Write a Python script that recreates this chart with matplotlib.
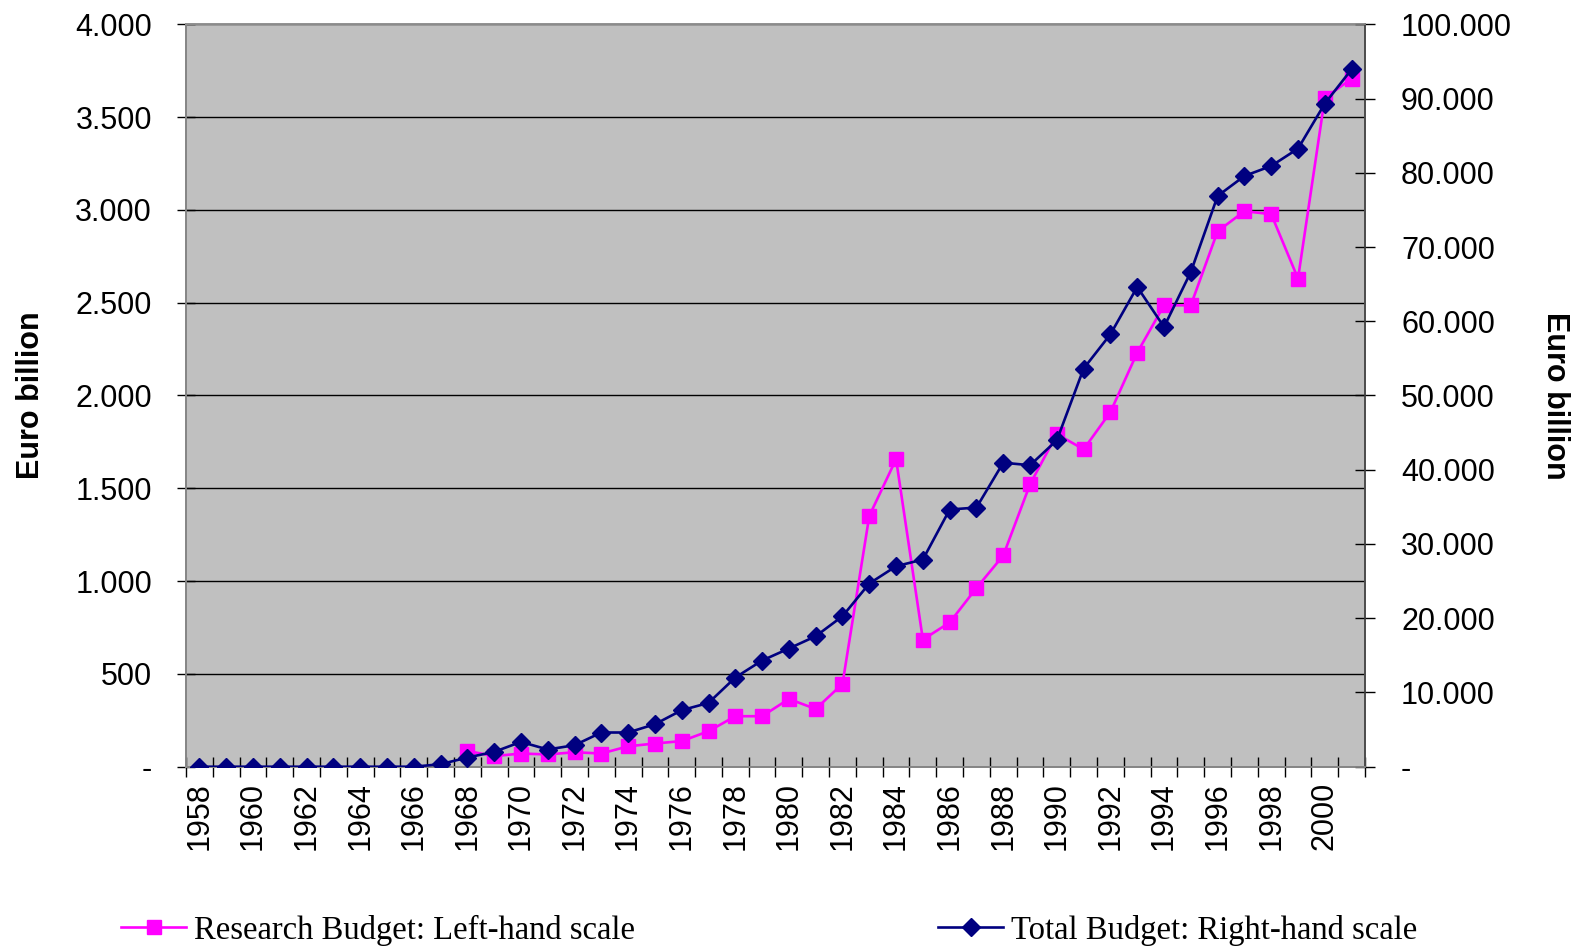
import numpy as np
import matplotlib
matplotlib.use("Agg")
import matplotlib.pyplot as plt
from matplotlib.ticker import FixedLocator, FuncFormatter

years = list(range(1958, 2002))

# Research budget (left-hand scale), starts in 1968
research = [np.nan] * 10 + [
    85, 57, 71, 66, 78, 71, 110, 125, 138, 191,
    272, 272, 365, 311, 446, 1351, 1657, 685, 777, 963,
    1138, 1522, 1792, 1710, 1911, 2231, 2486, 2486, 2885, 2993,
    2977, 2630, 3603, 3707]

# Total budget (right-hand scale)
total = [0, 0, 0, 0, 0, 0, 0, 0, 0, 337,
         1235, 1997, 3340, 2316, 2896, 4606, 4606, 5724, 7609, 8593,
         12013, 14303, 15919, 17576, 20269, 24673, 27003, 27906, 34640, 34909,
         40950, 40606, 43973, 53630, 58249, 64620, 59233, 66640, 76876, 79569,
         80916, 83254, 89320, 93939]

left_ticks = list(range(0, 4001, 500))
right_ticks = list(range(0, 100001, 10000))
year_labels = list(range(1958, 2001, 2))

label_font = "Liberation Sans"
legend_font = "Liberation Serif"
W, H = 1581, 946

fig = plt.figure(figsize=(W / 100, H / 100), dpi=100)
ax = fig.add_axes([186 / W, (H - 766.7) / H, 1179 / W, (766.7 - 24.3) / H])
ax.set_facecolor("#C0C0C0")
ax2 = ax.twinx()

def fmt_thousands(v, pos):
    if v == 0:
        return "-"
    return f"{int(round(v)):,}".replace(",", ".")

l1, = ax.plot(years, research, color="#FF00FF", marker="s", markersize=10,
              linewidth=1.9, label="Research Budget: Left-hand scale", zorder=3)
l2, = ax2.plot(years, total, color="#000080", marker="D", markersize=9.5,
               linewidth=1.9, label="Total Budget: Right-hand scale", zorder=3)

ax.set_xlim(1957.5, 2001.5)
ax.set_ylim(0, 4000)
ax2.set_ylim(0, 100000)

ax.yaxis.set_major_locator(FixedLocator(left_ticks))
ax.yaxis.set_major_formatter(FuncFormatter(fmt_thousands))
ax2.yaxis.set_major_locator(FixedLocator(right_ticks))
ax2.yaxis.set_major_formatter(FuncFormatter(fmt_thousands))

ax.grid(axis="y", color="black", linewidth=1.0)
ax.set_axisbelow(True)

# category boundaries as ticks, labels at category centers
bounds = [y - 0.5 for y in years] + [years[-1] + 0.5]
ax.xaxis.set_major_locator(FixedLocator(bounds))
ax.xaxis.set_major_formatter(FuncFormatter(lambda v, p: ""))
ax.xaxis.set_minor_locator(FixedLocator(year_labels))
ax.xaxis.set_minor_formatter(FuncFormatter(lambda v, p: str(int(round(v)))))
ax.tick_params(axis="x", which="major", direction="inout", length=14, width=1, color="black")
ax.tick_params(axis="x", which="minor", length=0, pad=11, labelsize=22, labelrotation=90)

ax.tick_params(axis="y", which="major", direction="inout", length=13, width=1, labelsize=22, pad=18)
ax2.tick_params(axis="y", which="major", direction="inout", length=14, width=1, labelsize=22, pad=19)

for lab in ax.get_xticklabels(which="minor") + ax.get_yticklabels() + ax2.get_yticklabels():
    lab.set_fontfamily(label_font)

for a in (ax, ax2):
    for s in a.spines.values():
        s.set_color("#909090")
        s.set_linewidth(1.2)
ax.spines["left"].set_color("#404040")
ax.spines["bottom"].set_color("#404040")
ax2.spines["right"].set_color("#404040")

ax.set_ylabel("Euro billion", fontsize=22, fontweight="bold", family=label_font)
ax.yaxis.set_label_coords((46 - 186) / 1179, 0.5)
ax2.set_ylabel("Euro billion", fontsize=22, fontweight="bold", family=label_font,
               rotation=270, va="center")
ax2.yaxis.set_label_coords((1555 - 186) / 1179, 0.5)

legend_kw = dict(frameon=False, handlelength=2.0, handletextpad=0.25, borderpad=0,
                 borderaxespad=0, prop={"family": legend_font, "size": 23.5})
leg1 = fig.legend(handles=[l1], loc="center left",
                  bbox_to_anchor=(121 / W, 1 - 930 / H), **legend_kw)
leg2 = fig.legend(handles=[l2], loc="center left",
                  bbox_to_anchor=(938 / W, 1 - 930 / H), **legend_kw)

fig.savefig("out.png", dpi=100)
